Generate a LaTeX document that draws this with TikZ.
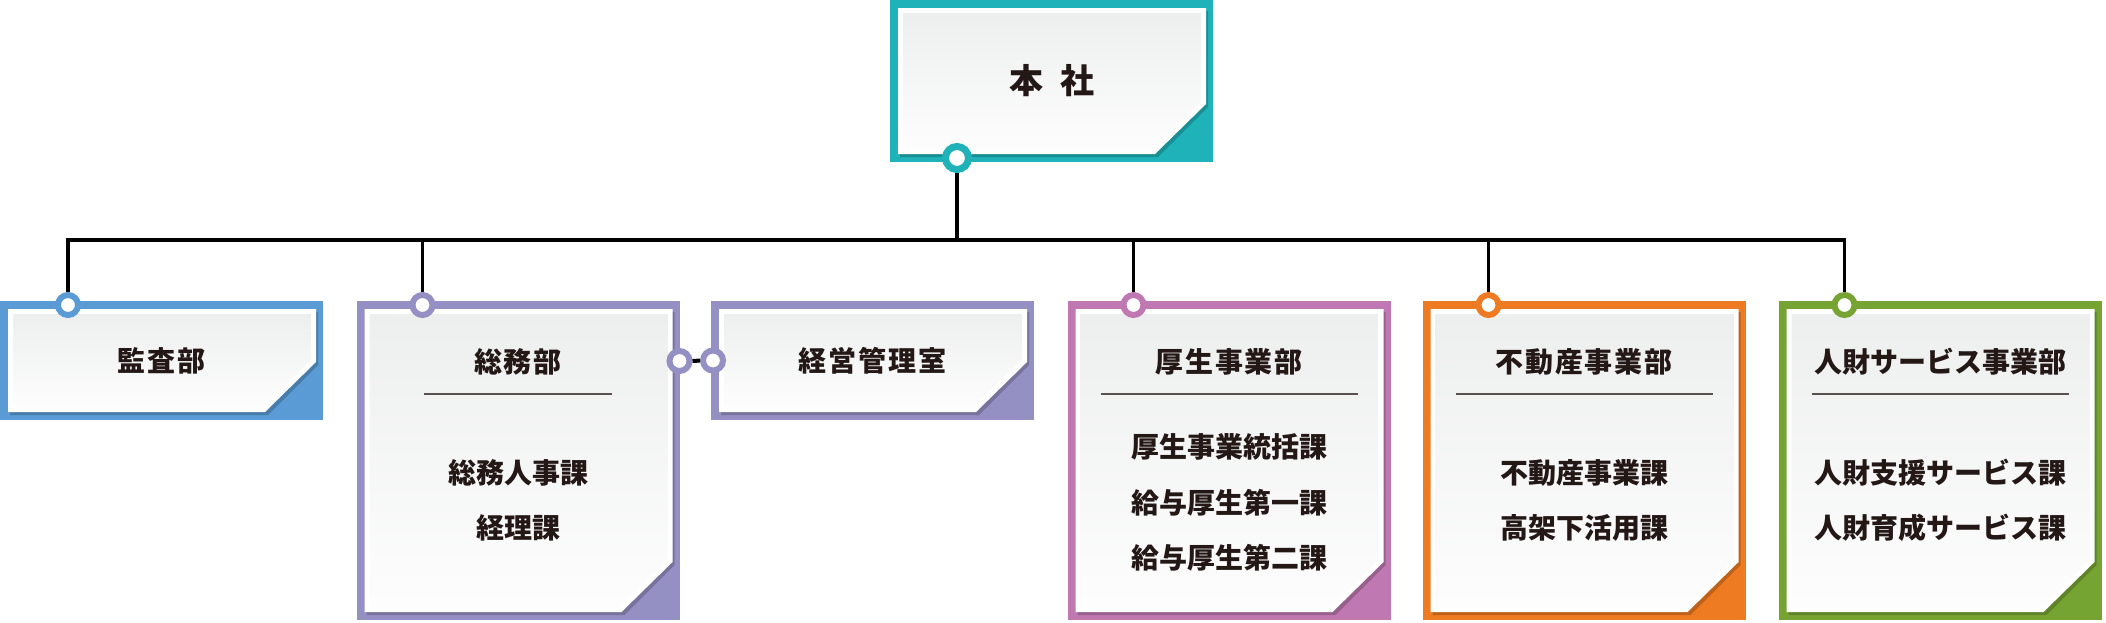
\documentclass[tikz,border=0pt]{standalone}
\usepackage{fontspec}
\newfontfamily\jpfont{Noto Sans CJK JP}
\usetikzlibrary{positioning}

\definecolor{ink}{HTML}{231815}
\definecolor{rulec}{HTML}{5A5050}
\definecolor{sheettop}{HTML}{EDEFEE}
\definecolor{sheetbot}{HTML}{FDFDFD}
\definecolor{honshac}{HTML}{1FB3B9}
\definecolor{kansac}{HTML}{5A9BD5}
\definecolor{soumuc}{HTML}{9590C4}
\definecolor{kouseic}{HTML}{BF78B1}
\definecolor{fudousanc}{HTML}{EE7B22}
\definecolor{jinzaic}{HTML}{76A433}

\tikzset{
  sheet/.style={rectangle, inner sep=0pt, outer sep=0pt, fill=#1, minimum width=161.5pt,
    text=ink, font=\jpfont\bfseries\fontsize{14}{16}\selectfont\addfontfeature{LetterSpace=7},
    path picture={
      \coordinate (nw) at (path picture bounding box.north west);
      \coordinate (se) at (path picture bounding box.south east);
      \coordinate (ne) at (se |- nw);
      \coordinate (sw) at (nw |- se);
      \fill[black,opacity=.2] ([shift={(10,11)}]nw) -- ([shift={(-5,11)}]ne) -- ([shift={(-5,-55)}]se)
        -- ([shift={(-55,-5)}]se) -- ([shift={(10,-5)}]sw) -- cycle;
      \fill[white] ([shift={(8,8)}]nw) -- ([shift={(-7,8)}]ne) -- ([shift={(-7,-58)}]se)
        -- ([shift={(-58,-8)}]se) -- ([shift={(8,-8)}]sw) -- cycle;
      \shade[top color=sheettop, bottom color=sheetbot] ([shift={(13,13)}]nw) -- ([shift={(-12,13)}]ne)
        -- ([shift={(-12,-60)}]se) -- ([shift={(-60,-13)}]se) -- ([shift={(13,-13)}]sw) -- cycle;
    }},
  small/.style={minimum height=59.5pt},
  tall/.style={minimum height=159.5pt},
  ring/.style={circle, draw=#1, fill=white, line width=3pt, minimum size=10pt, inner sep=0pt},
  wire/.style={line width=1.75pt, black},
  rule/.style={line width=.75pt, rulec},
  title/.style={text=ink, font=\jpfont\bfseries\fontsize{14}{16}\selectfont\addfontfeature{LetterSpace=7}},
  items/.style={text=ink, align=center, font=\jpfont\bfseries\fontsize{14}{27.75}\selectfont},
}

\begin{document}
\begin{tikzpicture}[x=0.5pt, y=-0.5pt]
  \useasboundingbox (0,0) rectangle (2106,622);

  % boxes
  \node[sheet=honshac, minimum height=81pt, font=\jpfont\bfseries\fontsize{17}{20}\selectfont] (honsha) at (1051.5,81) {本\enspace 社};
  \node[sheet=kansac, small] (kansa) at (161.5,360.5) {監査部};
  \node[sheet=soumuc, tall] (soumu) at (518,460.5) {};
  \node[sheet=soumuc, small] (keiei) at (872.5,360.5) {経営管理室};
  \node[sheet=kouseic, tall] (kousei) at (1229,460.5) {};
  \node[sheet=fudousanc, tall] (fudousan) at (1584,460.5) {};
  \node[sheet=jinzaic, tall] (jinzai) at (1940,460.5) {};

  % titles and sections
  \node[title] (soumu-t) at ([shift={(0,-98.5)}]soumu.center) {総務部};
  \node[title] (kousei-t) at ([shift={(0,-98.5)}]kousei.center) {厚生事業部};
  \node[title] (fudousan-t) at ([shift={(0,-98.5)}]fudousan.center) {不動産事業部};
  \node[items] (jinzai-t) at ([shift={(0,-98.5)}]jinzai.center) {人財サービス事業部};
  \draw[rule] ([shift={(-94,-66.5)}]soumu.center) -- ([shift={(94,-66.5)}]soumu.center);
  \draw[rule] ([shift={(-128.5,-66.5)}]kousei.center) -- ([shift={(128.5,-66.5)}]kousei.center);
  \draw[rule] ([shift={(-128.5,-66.5)}]fudousan.center) -- ([shift={(128.5,-66.5)}]fudousan.center);
  \draw[rule] ([shift={(-128.5,-66.5)}]jinzai.center) -- ([shift={(128.5,-66.5)}]jinzai.center);
  \node[items] (soumu-i) at ([shift={(0,40)}]soumu.center) {総務人事課\\経理課};
  \node[items] (kousei-i) at ([shift={(0,42)}]kousei.center) {厚生事業統括課\\給与厚生第一課\\給与厚生第二課};
  \node[items] (fudousan-i) at ([shift={(0,40)}]fudousan.center) {不動産事業課\\高架下活用課};
  \node[items] (jinzai-i) at ([shift={(0,40)}]jinzai.center) {人財支援サービス課\\人財育成サービス課};

  % rings
  \node[ring=honshac, line width=3.5pt, minimum size=11.5pt] (r-honsha) at ([shift={(67,-4)}]honsha.south west) {};
  \node[ring=kansac] (r-kansa) at ([shift={(68,4)}]kansa.north west) {};
  \node[ring=soumuc] (r-soumu) at ([shift={(66,4)}]soumu.north west) {};
  \node[ring=kouseic] (r-kousei) at ([shift={(66,4)}]kousei.north west) {};
  \node[ring=fudousanc] (r-fudousan) at ([shift={(66,4)}]fudousan.north west) {};
  \node[ring=jinzaic] (r-jinzai) at ([shift={(66,4)}]jinzai.north west) {};
  \node[ring=soumuc] (r-soumu-s) at ([shift={(0,60)}]soumu.north east) {};
  \node[ring=soumuc] (r-keiei) at ([shift={(2,0)}]keiei.west) {};

  % wires
  \coordinate (bus) at (957,240);
  \draw[wire] (r-honsha) -- (bus);
  \draw[wire] (bus) -| (r-kansa);
  \draw[wire] (bus) -| (r-soumu);
  \draw[wire] (bus) -| (r-kousei);
  \draw[wire] (bus) -| (r-fudousan);
  \draw[wire] (bus) -| (r-jinzai);
  \draw[wire, line width=2pt] (r-soumu-s) -- (r-keiei);
\end{tikzpicture}
\end{document}
